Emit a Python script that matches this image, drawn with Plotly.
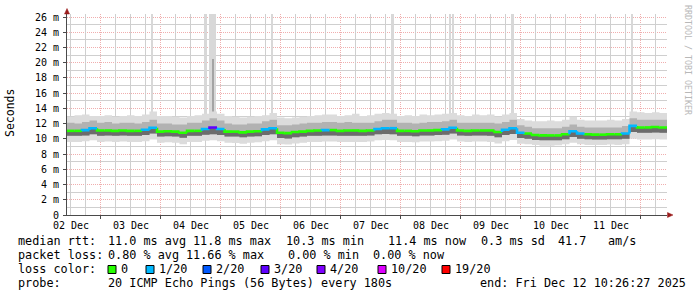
import plotly.graph_objects as go
import pandas as pd

# ---------------- data ----------------
START = "2025-12-02 10:26:27"
END = "2025-12-12 10:26:27"
BIN = "3h"

median_ms = [
    11.05, 11.05, 11.15, 11.4, 11.1, 11.1, 11.05, 11.1, 11.05, 11.05,
    11.2, 11.45, 10.95, 11.0, 10.95, 10.8, 11.05, 11.05, 11.3, 11.5,
    11.3, 10.95, 10.95, 10.85, 10.95, 11.0, 11.25, 11.4, 10.8, 10.75,
    10.9, 10.95, 11.05, 11.1, 11.15, 11.15, 11.05, 11.1, 11.1, 11.05,
    11.1, 11.3, 11.4, 11.4, 11.05, 11.05, 11.0, 11.1, 11.1, 11.15,
    11.25, 11.45, 11.1, 11.05, 11.1, 11.1, 11.1, 10.9, 11.2, 11.4,
    10.8, 10.7, 10.5, 10.45, 10.45, 10.45, 10.6, 11.0, 10.7, 10.6,
    10.55, 10.55, 10.6, 10.6, 10.7, 11.7, 11.5, 11.5, 11.55, 11.5,
]
loss_idx = [
    0, 0, 1, 1, 0, 0, 0, 0, 0, 0,
    1, 1, 0, 0, 0, 0, 0, 0, 1, 3,
    1, 0, 0, 0, 0, 0, 1, 1, 0, 0,
    0, 0, 0, 0, 1, 0, 0, 0, 0, 0,
    0, 1, 1, 1, 0, 0, 0, 0, 0, 0,
    1, 1, 0, 0, 0, 0, 0, 0, 1, 1,
    1, 0, 0, 0, 0, 0, 0, 1, 1, 0,
    0, 0, 0, 0, 1, 1, 0, 0, 0, 0,
]
smoke_max = [
    12.9, 13.1, 13.2, 13.0, 13.0, 13.1, 12.9, 13.0, 13.1, 13.0,
    13.2, 13.6, 13.0, 13.0, 12.9, 12.8, 13.0, 13.1, 13.3, 13.6,
    13.3, 13.0, 12.9, 12.8, 12.9, 13.0, 13.1, 13.4, 12.8, 12.7,
    12.8, 12.9, 13.0, 13.1, 13.2, 13.2, 13.0, 13.1, 13.3, 13.0,
    13.1, 13.3, 13.4, 13.3, 13.0, 13.1, 13.0, 13.2, 13.1, 13.2,
    13.3, 13.4, 13.1, 13.0, 13.2, 13.1, 13.2, 12.9, 13.2, 13.4,
    12.6, 12.4, 12.3, 12.3, 12.4, 12.3, 12.5, 12.9, 12.5, 12.4,
    12.4, 12.4, 12.5, 12.4, 12.6, 13.6, 13.5, 13.4, 13.5, 13.4,
]
smoke_hi = [
    12.1, 12.0, 12.2, 12.4, 12.1, 12.2, 12.0, 12.1, 12.1, 12.0,
    12.2, 12.5, 12.0, 12.0, 11.9, 11.9, 12.1, 12.1, 12.4, 12.7,
    12.4, 12.0, 11.9, 11.9, 12.0, 12.0, 12.3, 12.5, 11.8, 11.8,
    11.9, 12.0, 12.1, 12.1, 12.2, 12.2, 12.1, 12.2, 12.1, 12.1,
    12.1, 12.3, 12.5, 12.5, 12.1, 12.1, 12.0, 12.1, 12.2, 12.2,
    12.3, 12.5, 12.1, 12.1, 12.1, 12.1, 12.1, 12.0, 12.2, 12.5,
    11.8, 11.6, 11.4, 11.4, 11.4, 11.4, 11.6, 11.9, 11.6, 11.5,
    11.5, 11.5, 11.5, 11.5, 11.7, 12.7, 12.5, 12.5, 12.5, 12.5,
]
smoke_lo = [
    10.4, 10.4, 10.45, 10.6, 10.4, 10.45, 10.4, 10.45, 10.4, 10.4,
    10.5, 10.7, 10.3, 10.35, 10.3, 10.15, 10.4, 10.4, 10.55, 10.6,
    10.5, 10.3, 10.3, 10.2, 10.3, 10.35, 10.5, 10.6, 10.1, 10.05,
    10.2, 10.3, 10.4, 10.4, 10.45, 10.45, 10.4, 10.4, 10.4, 10.4,
    10.45, 10.6, 10.65, 10.6, 10.4, 10.4, 10.35, 10.45, 10.45, 10.5,
    10.55, 10.7, 10.45, 10.4, 10.45, 10.45, 10.4, 10.2, 10.5, 10.65,
    10.1, 10.0, 9.85, 9.8, 9.8, 9.8, 9.95, 10.25, 10.0, 9.95,
    9.9, 9.9, 9.95, 9.95, 10.0, 10.9, 10.8, 10.8, 10.85, 10.8,
]
smoke_min = [
    9.6, 9.6, 9.7, 9.8, 9.6, 9.65, 9.6, 9.65, 9.6, 9.6,
    9.7, 9.9, 9.5, 9.55, 9.5, 9.3, 9.6, 9.6, 9.75, 9.8,
    9.7, 9.5, 9.45, 9.35, 9.5, 9.55, 9.7, 9.8, 9.3, 9.25,
    9.4, 9.5, 9.6, 9.6, 9.65, 9.65, 9.6, 9.6, 9.6, 9.6,
    9.65, 9.8, 9.85, 9.8, 9.6, 9.6, 9.55, 9.65, 9.65, 9.7,
    9.75, 9.9, 9.65, 9.6, 9.65, 9.65, 9.6, 9.4, 9.7, 9.85,
    9.35, 9.3, 9.2, 9.1, 9.1, 9.15, 9.3, 9.5, 9.3, 9.2,
    9.2, 9.2, 9.25, 9.2, 9.3, 10.0, 9.9, 9.9, 9.95, 9.9,
]

spike_time = ["2025-12-03 20:26", "2025-12-04 17:50", "2025-12-04 20:43",
              "2025-12-05 20:24", "2025-12-07 20:33", "2025-12-08 19:48",
              "2025-12-08 20:50", "2025-12-09 20:38", "2025-12-11 20:26"]
spike_width_min = [62, 58, 160, 55, 80, 32, 34, 86, 48]
spike_base = [12.8, 12.8, 12.8, 12.8, 12.8, 12.8, 12.8, 12.8, 12.8]
spike_top = [26.4, 26.4, 26.4, 26.4, 26.4, 26.4, 26.4, 26.4, 26.4]

dark_spike_time = ["2025-12-04 20:50"]
dark_spike_base = [12.8]
dark_spike_top = [20.5]

day_labels = ["02 Dec", "03 Dec", "04 Dec", "05 Dec", "06 Dec",
              "07 Dec", "08 Dec", "09 Dec", "10 Dec", "11 Dec"]

loss_labels = ["0", "1/20", "2/20", "3/20", "4/20", "10/20", "19/20"]
loss_colors = ["#26ff00", "#00b8ff", "#0059ff", "#5e00ff", "#7e00ff", "#dd00ff", "#ff0000"]

y_tick_vals = list(range(0, 27, 2))
y_tick_text = ["0"] + [f"{v} m" for v in range(2, 27, 2)]
y_minor_vals = list(range(1, 27, 2))

rtt_stats = ["median rtt:", "11.0 ms avg", "11.8 ms max", "10.3 ms min",
             "11.4 ms now", "0.3 ms sd", "41.7", "am/s"]
loss_stats = ["packet loss:", "0.80 % avg", "11.66 % max", "0.00 % min", "0.00 % now"]
probe_text = ["probe:", "20 ICMP Echo Pings (56 Bytes) every 180s",
              "end: Fri Dec 12 10:26:27 2025"]

# ---------------- layout helpers ----------------
W, H = 697, 297
L, R, T, B = 67, 30, 14, 82
PW, PH = W - L - R, H - T - B
Y_MAX = PH / 7.615


def px(x):
    return (x - L) / PW


def py(y):
    return (H - B - y) / PH


FONT = "DejaVu Sans Mono"
t0, t1 = pd.Timestamp(START), pd.Timestamp(END)
times = pd.date_range(START, periods=len(median_ms) + 1, freq=BIN)
label_pos = pd.date_range("2025-12-02 12:00:00", periods=len(day_labels), freq="D")
minor_x = [t for t in pd.date_range("2025-12-02 12:00:00", END, freq="6h") if t.hour != 0]


def tfrac(t):
    return (pd.Timestamp(t) - t0) / (t1 - t0)


def step(vals):
    return list(times), list(vals) + [vals[-1]]


GRAY_GRID = "#cfcfcf"
RED_GRID = "rgba(230,120,120,0.6)"
AXIS_COL = "#4a4a4a"

fig = go.Figure()

# helper traces so the grid-only axes are drawn
fig.add_trace(go.Scatter(x=[t0], y=[0], xaxis="x3", yaxis="y", mode="markers",
                         marker=dict(opacity=0), hoverinfo="skip", showlegend=False))
fig.add_trace(go.Scatter(x=[t0], y=[0], xaxis="x", yaxis="y2", mode="markers",
                         marker=dict(opacity=0), hoverinfo="skip", showlegend=False))

# spikes
fig.add_trace(go.Bar(
    x=pd.to_datetime(spike_time), y=[t - b for t, b in zip(spike_top, spike_base)],
    base=spike_base, width=[w * 60000 for w in spike_width_min],
    marker=dict(color="#d8d8d8", line=dict(width=0)), hoverinfo="skip", showlegend=False))
fig.add_trace(go.Bar(
    x=pd.to_datetime(dark_spike_time), y=[t - b for t, b in zip(dark_spike_top, dark_spike_base)],
    base=dark_spike_base, width=[14 * 60000],
    marker=dict(color="#a4a4a4", line=dict(width=0)), hoverinfo="skip", showlegend=False))

# smoke layers
layers = [(smoke_min, smoke_max, "#dcdcdc"),
          (smoke_lo, smoke_hi, "#b2b2b2"),
          (smoke_lo, median_ms, "#6c6c6c")]
for lo, hi, col in layers:
    xs, ys = step(lo)
    fig.add_trace(go.Scatter(x=xs, y=ys, mode="lines", line=dict(width=0, shape="hv"),
                             hoverinfo="skip", showlegend=False))
    xs, ys = step(hi)
    fig.add_trace(go.Scatter(x=xs, y=ys, mode="lines", line=dict(width=0, shape="hv"),
                             fill="tonexty", fillcolor=col, hoverinfo="skip", showlegend=False))

# median line coloured by loss
for k, col in enumerate(loss_colors):
    xs, ys = [], []
    for i, v in enumerate(median_ms):
        if loss_idx[i] != k:
            continue
        prev = median_ms[i - 1] if i > 0 else v
        xs += [times[i], times[i], times[i + 1], None]
        ys += [prev, v, v, None]
    if xs:
        fig.add_trace(go.Scatter(x=xs, y=ys, mode="lines", line=dict(color=col, width=2.6),
                                 hoverinfo="skip", showlegend=False))

fig.update_layout(
    width=W, height=H, margin=dict(l=L, r=R, t=T, b=B, pad=0),
    paper_bgcolor="white", plot_bgcolor="white",
    font=dict(family=FONT, size=10, color="black"),
    barmode="overlay", bargap=0, showlegend=False,
    xaxis=dict(
        type="date", range=[START, END], showline=True, linecolor=AXIS_COL, linewidth=1,
        tick0="2025-12-02 00:00:00", dtick=86400000, showticklabels=False,
        ticks="outside", ticklen=3, tickcolor=AXIS_COL,
        showgrid=True, gridcolor=RED_GRID, griddash="1px,1px", gridwidth=1,
        zeroline=False, fixedrange=True,
    ),
    xaxis3=dict(
        type="date", range=[START, END], overlaying="x", anchor="y", side="bottom",
        tickmode="array", tickvals=minor_x, showticklabels=False, ticks="",
        showgrid=True, gridcolor=GRAY_GRID, griddash="solid", gridwidth=1,
        showline=False, zeroline=False, fixedrange=True,
    ),
    yaxis=dict(
        range=[0, Y_MAX], showline=True, linecolor=AXIS_COL, linewidth=1,
        tickvals=y_tick_vals, ticktext=y_tick_text, ticks="outside", ticklen=3,
        tickcolor=AXIS_COL, ticklabelstandoff=2,
        showgrid=True, gridcolor=RED_GRID, griddash="1px,1px", gridwidth=1,
        tickfont=dict(family=FONT, size=10, color="black"),
        zeroline=False, fixedrange=True,
    ),
    yaxis2=dict(
        range=[0, Y_MAX], overlaying="y", anchor="x", side="left",
        tickmode="array", tickvals=y_minor_vals, showticklabels=False, ticks="",
        showgrid=True, gridcolor=GRAY_GRID, griddash="solid", gridwidth=1,
        showline=False, zeroline=False, fixedrange=True,
    ),
)

shapes = []
ann = []


def text(x, y, s, size=11.8, color="black", angle=0, xanchor="left"):
    ann.append(dict(xref="paper", yref="paper", x=px(x), y=py(y), text=s.replace(" ", "\u00a0"),
                    showarrow=False, xanchor=xanchor, yanchor="middle", textangle=angle,
                    font=dict(family=FONT, size=size, color=color)))


# day labels centred at midday
for t, lbl in zip(label_pos, day_labels):
    ann.append(dict(xref="paper", yref="paper", x=tfrac(t), y=py(225.5),
                    text=lbl.replace(" ", "\u00a0"), showarrow=False,
                    xanchor="center", yanchor="middle",
                    font=dict(family=FONT, size=10, color="black")))

# y title and watermark
ann.append(dict(xref="paper", yref="paper", x=px(10), y=py(113), text="Seconds", showarrow=False,
                xanchor="center", yanchor="middle", textangle=-90,
                font=dict(family=FONT, size=11.5, color="black")))
ann.append(dict(xref="paper", yref="paper", x=px(688), y=py(60), text="RRDTOOL / TOBI OETIKER",
                showarrow=False, xanchor="center", yanchor="middle", textangle=90,
                font=dict(family=FONT, size=8.3, color="#b8b8b8")))

rtt_x = [16, 106, 191, 284, 385.5, 478.5, 555.5, 606]
for s, x in zip(rtt_stats, rtt_x):
    text(x, 241, s)
loss_x = [16, 106, 183.5, 285.5, 371.5]
for s, x in zip(loss_stats, loss_x):
    text(x, 255, s)
text(16, 269, "loss color:")
box_x = [108, 146, 203, 261, 317, 378, 442]
for lbl, col, bx in zip(loss_labels, loss_colors, box_x):
    shapes.append(dict(type="rect", xref="paper", yref="paper",
                       x0=px(bx), x1=px(bx + 8), y0=py(273.5), y1=py(265.5),
                       fillcolor=col, line=dict(color="black", width=1)))
    text(bx + 11, 269, lbl)
text(16, 283, probe_text[0])
text(106, 283, probe_text[1])
text(477.5, 283, probe_text[2])

# axis arrows
ARROW = "#9b1c1c"
shapes.append(dict(type="path", xref="paper", yref="paper",
                   path=f"M {px(64.5)} {py(14)} L {px(69.5)} {py(14)} L {px(67)} {py(8.5)} Z",
                   fillcolor=ARROW, line=dict(color=ARROW, width=0.5)))
shapes.append(dict(type="path", xref="paper", yref="paper",
                   path=f"M {px(667.5)} {py(212.5)} L {px(667.5)} {py(217.5)} L {px(673)} {py(215)} Z",
                   fillcolor=ARROW, line=dict(color=ARROW, width=0.5)))

fig.update_layout(annotations=ann, shapes=shapes)
fig.write_html("out.html")
